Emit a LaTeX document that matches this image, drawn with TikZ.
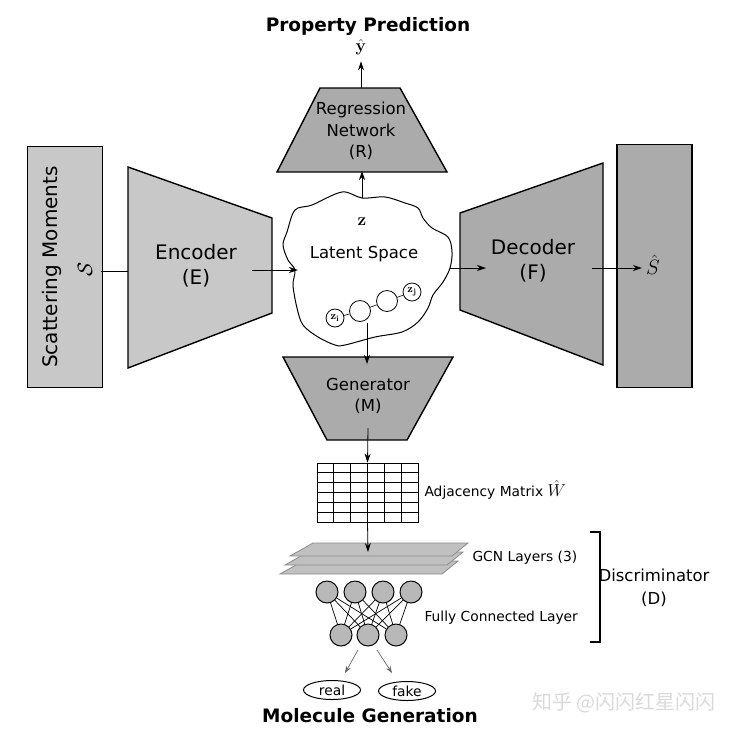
\documentclass[tikz,border=0pt]{standalone}
\usepackage[no-math]{fontspec}
\setmainfont{DejaVu Sans}
\newfontfamily\cjk{Noto Sans CJK SC}
\usetikzlibrary{arrows.meta,shapes.geometric}
\definecolor{lg}{HTML}{C8C8C8}
\definecolor{dg}{HTML}{ABABAB}
\definecolor{ng}{HTML}{B8B8B8}
\definecolor{gcnf}{HTML}{C0C0C0}
\definecolor{gcnd}{HTML}{8C8C8C}
\definecolor{wm}{HTML}{DADADA}
\newcommand{\bigf}{\fontsize{20}{25}\selectfont}
\newcommand{\midf}{\fontsize{16.5}{21.5}\selectfont}
\newcommand{\smallf}{\fontsize{13.8}{16}\selectfont}
\begin{document}
\begin{tikzpicture}[x=1pt,y=-1pt,
  arr/.style={-{Stealth[length=9pt,width=6pt]}, line width=0.8pt},
  arrg/.style={-{Stealth[length=7pt,width=5pt]}, line width=0.7pt, draw=gray!80!black},
  blk/.style={draw, line width=1.4pt, line join=miter},
  lbl/.style={inner sep=0pt, align=center},
  neuron/.style={circle, draw, line width=1pt, fill=ng, minimum size=22pt, inner sep=0pt},
  lat/.style={circle, draw, line width=0.8pt, fill=white, minimum size=21pt, inner sep=0pt},
  outc/.style={ellipse, draw, line width=1pt, minimum width=57pt, minimum height=19pt, inner sep=0pt, font=\smallf},
]
\fill[white] (0,0) rectangle (743,737);
\useasboundingbox (0,0) rectangle (743,737);

% titles
\node[font=\bfseries\fontsize{18.5}{20}\selectfont] (title) at (368,26) {Property Prediction};
\node[font=\bfseries\fontsize{18.5}{20}\selectfont] (mg) at (370,716) {Molecule Generation};

% scattering moments box
\node[blk, fill=lg, minimum width=75pt, minimum height=241pt, inner sep=0pt] (sbox) at (65,267) {};
\node[rotate=90, font=\bigf] (stext) at (52,267) {Scattering Moments};
\node[rotate=90, font=\bigf] (scalS) at (85,269) {$\mathcal{S}$};
\coordinate (sout) at (101,271);
\coordinate (ein) at (148,271);
\draw[arr] (sout) -- (ein);

% encoder
\draw[blk, fill=lg] (128,167) -- (272,218) -- (272,313) -- (128,368) -- cycle;
\node[lbl, font=\bigf] (enc) at (196,266) {Encoder\\(E)};
\coordinate (eout) at (252,270);
\coordinate (lin) at (298,270);

% latent space blob
\draw[line width=1pt, fill=white] plot[smooth cycle, tension=0.55] coordinates {(295,210) (312,205) (342,192) (362,198) (385,197) (405,203) (418,208) (423,218) (432,228) (448,237) (452,252) (450,268) (443,282) (433,295) (428,308) (418,322) (402,332) (375,337) (345,345) (335,345) (318,337) (303,325) (297,308) (293,285) (295,270) (288,260) (283,245) (287,232)};
\draw[arr] (eout) -- (lin);
\node[font=\fontsize{18}{18}\selectfont] (z) at (362,222) {$\mathbf{z}$};
\node[font=\midf] (lsp) at (364,254) {Latent Space};
\node[lat, minimum size=18pt, font=\fontsize{11}{11}\selectfont] (zi) at (335,318) {$\mathbf{z}_{\mathbf{i}}$};
\node[lat] (c1) at (360,311) {};
\node[lat] (c2) at (387,301) {};
\node[lat, minimum size=18pt, font=\fontsize{11}{11}\selectfont] (zj) at (412,292) {$\mathbf{z}_{\mathbf{j}}$};
\draw[line width=0.6pt] (zi) -- (c1) (c1) -- (c2) (c2) -- (zj);

% regression network
\draw[blk, fill=dg] (320,88) -- (400,88) -- (447,172) -- (277,172) -- cycle;
\node[lbl, font=\midf] (reg) at (361,131) {Regression\\Network\\(R)};
\coordinate (ltop) at (362,198);
\coordinate (rbot) at (362,171);
\draw[arr] (ltop) -- (rbot);
\coordinate (rtop) at (361,88);
\node[font=\fontsize{16}{16}\selectfont] (yhat) at (361,47) {$\hat{\mathbf{y}}$};
\draw[arr, shorten >=3pt] (rtop) -- (yhat);

% decoder
\draw[blk, fill=dg] (460,213) -- (603,163) -- (603,365) -- (460,310) -- cycle;
\node[lbl, font=\bigf] (dec) at (533,261) {Decoder\\(F)};
\coordinate (lright) at (450,268);
\coordinate (din) at (486,268);
\draw[arr] (lright) -- (din);
\node[blk, fill=dg, minimum width=75pt, minimum height=243pt, inner sep=0pt] (obox) at (654.5,266) {};
\coordinate (dout) at (592,268);
\node[font=\bigf, inner sep=1pt] (shat) at (653,265) {$\hat{S}$};
\draw[arr, shorten >=3pt] (dout) -- (shat.west |- dout);

% generator
\draw[blk, fill=dg] (283,357) -- (453,357) -- (407,440) -- (327,440) -- cycle;
\node[lbl, font=\midf] (gen) at (368,396) {Generator\\(M)};
\coordinate (lbot) at (367,323);
\coordinate (gtop) at (367,364);
\draw[arr] (lbot) -- (gtop);

% adjacency matrix
\node[draw, line width=0.7pt, minimum width=101pt, minimum height=59pt, inner sep=0pt] (adj) at (367.5,492.5) {};
\foreach \i in {1,...,5} \draw[line width=0.7pt] (317+\i*16.83,463) -- (317+\i*16.83,522);
\foreach \j in {1,...,5} \draw[line width=0.7pt] (317,463+\j*9.83) -- (418,463+\j*9.83);
\coordinate (gbot) at (368,428);
\draw[arr] (gbot) -- (adj.north);
\node[anchor=west, font=\smallf] (adjlbl) at (421,490) {Adjacency Matrix {\fontsize{17}{17}\selectfont$\hat{W}$}};

% GCN layers
\foreach \k in {2,1,0}
  \draw[fill=gcnf, draw=gcnd, line width=0.8pt] (313-5*\k,543+9*\k) -- (468-5*\k,543+9*\k) -- (452-5*\k,556+9*\k) -- (290-5*\k,556+9*\k) -- cycle;
\coordinate (gcntop) at (368,552);
\draw[arr] (adj.south) -- (gcntop);
\node[anchor=west, font=\smallf] (gcnlbl) at (469,558) {GCN Layers (3)};

% fully connected layer
\foreach \n/\x in {1/327,2/355,3/383,4/411} \node[neuron] (t\n) at (\x,592) {};
\foreach \n/\x in {1/341,2/368,3/396} \node[neuron] (b\n) at (\x,635) {};
\foreach \a in {1,...,4} \foreach \b in {1,...,3} \draw[line width=0.7pt] (t\a) -- (b\b);
\node[anchor=west, font=\smallf] (fcl) at (421,618) {Fully Connected Layer};

% discriminator bracket
\draw[line width=2pt] (590,532) -- (600,532) -- (600,642) -- (590,642);
\node[lbl, font=\fontsize{16.5}{23}\selectfont] (disc) at (654,588) {Discriminator\\(D)};

% outputs
\coordinate (o1) at (358,650);
\coordinate (o2) at (377,650);
\node[outc] (real) at (332,690) {real};
\node[outc] (fake) at (407,691) {fake};
\coordinate (r1) at (345,673);
\coordinate (f1) at (392,673);
\draw[arrg] (o1) -- (r1);
\draw[arrg] (o2) -- (f1);

% watermark
\node[text=wm, font=\cjk\fontsize{20}{20}\selectfont] (wmk) at (624,703) {知乎 @闪闪红星闪闪};
\end{tikzpicture}
\end{document}
